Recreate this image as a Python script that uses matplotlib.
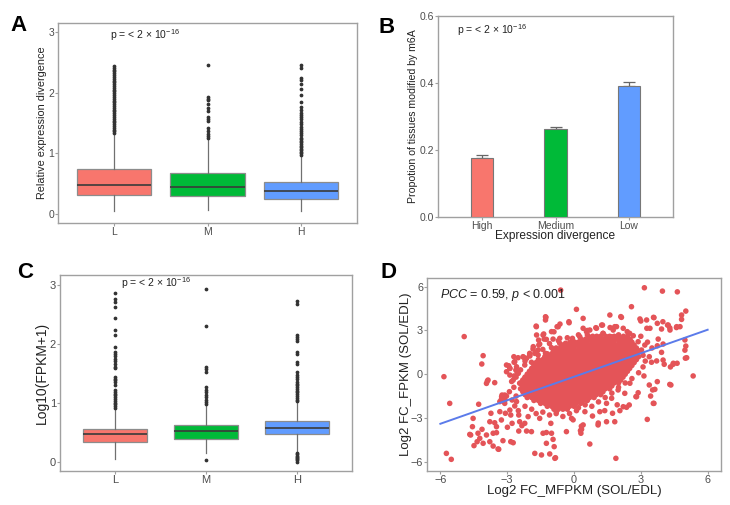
import matplotlib
matplotlib.use("Agg")
import matplotlib.pyplot as plt

plt.rcParams['font.family'] = ['Liberation Sans', 'DejaVu Sans']
plt.rcParams['mathtext.fontset'] = 'custom'
plt.rcParams['mathtext.rm'] = 'Liberation Sans'
plt.rcParams['mathtext.it'] = 'Liberation Sans:italic'

# ---------- data ----------
groups = ["L", "M", "H"]
box_colors = ["#F8766D", "#00BA38", "#619CFF"]

# panel A: relative expression divergence
A_med = [0.48, 0.45, 0.37]
A_q1 = [0.32, 0.30, 0.24]
A_q3 = [0.74, 0.67, 0.53]
A_lo = [0.055, 0.066, 0.04]
A_hi = [1.33, 1.22, 0.97]
A_out_L = [1.33, 1.36, 1.39, 1.42, 1.45, 1.48, 1.51, 1.54, 1.57, 1.6, 1.63, 1.66, 1.69,
           1.72, 1.75, 1.78, 1.81, 1.84, 1.87, 1.9, 1.93, 1.96, 1.99, 2.02, 2.05, 2.08,
           2.11, 2.14, 2.17, 2.2, 2.23, 2.26, 2.29, 2.32, 2.35, 2.38, 2.41, 2.44]
A_out_M = [1.25, 1.28, 1.32, 1.37, 1.41, 1.53, 1.57, 1.6, 1.69, 1.75, 1.81, 1.88, 1.9, 1.93, 2.45]
A_out_H = [0.98, 1.0, 1.02, 1.05, 1.07, 1.1, 1.12, 1.15, 1.18, 1.2, 1.23, 1.26, 1.3, 1.33,
           1.36, 1.4, 1.44, 1.48, 1.52, 1.56, 1.6, 1.64, 1.67, 1.71, 1.77, 1.85, 1.96, 2.06,
           2.14, 2.21, 2.25, 2.4, 2.45]

# panel B: proportion of tissues modified by m6A
B_cats = ["High", "Medium", "Low"]
B_vals = [0.177, 0.262, 0.392]
B_err = [0.009, 0.007, 0.011]

# panel C: Log10(FPKM+1)
C_med = [0.48, 0.52, 0.575]
C_q1 = [0.34, 0.39, 0.47]
C_q3 = [0.56, 0.63, 0.69]
C_lo = [0.05, 0.15, 0.18]
C_hi = [0.89, 0.95, 1.0]
C_out_L = [0.92, 0.95, 0.98, 1.01, 1.04, 1.07, 1.1, 1.13, 1.16, 1.19, 1.22, 1.31, 1.35,
           1.39, 1.41, 1.44, 1.59, 1.62, 1.66, 1.71, 1.75, 1.79, 1.83, 1.87, 1.95, 2.16,
           2.24, 2.45, 2.63, 2.72, 2.76, 2.86]
C_out_M = [0.04, 0.98, 1.02, 1.06, 1.1, 1.14, 1.19, 1.22, 1.28, 1.52, 1.58, 1.62, 2.31, 2.93]
C_out_H = [0.01, 0.03, 0.05, 0.07, 0.09, 0.11, 0.13, 0.16, 1.03, 1.06, 1.09, 1.12, 1.15,
           1.18, 1.21, 1.24, 1.27, 1.3, 1.33, 1.36, 1.4, 1.44, 1.48, 1.53, 1.66, 1.7, 1.83,
           1.87, 2.06, 2.09, 2.12, 2.15, 2.68, 2.73]

# panel D: scattered points outside the dense core (x, y)
D_sparse = [
    (-0.6, 5.77), (3.16, 5.93), (3.97, 5.7), (4.64, 5.65), (0.11, 4.45), (2.58, 4.63),
    (-4.93, 2.58), (-4.08, 1.27), (-4.14, 0.7), (-5.84, -0.17), (-5.58, -2.0), (-4.28, -2.06),
    (-5.73, -5.43), (-5.51, -5.84), (5.35, -0.12), (5.02, 4.33), (4.83, 4.06), (-1.28, 3.94),
    (-1.28, 3.72), (-1.69, 3.26), (-0.23, 3.6), (0.41, 3.83), (1.61, 4.06), (2.13, 3.9),
    (2.96, 3.79), (3.26, 3.72), (3.59, 3.88), (4.83, 3.76), (4.76, 3.26), (4.61, 3.26),
    (4.23, 3.37), (4.31, 3.03), (3.93, 3.1), (3.74, 3.49), (3.41, 3.15), (4.98, 2.35),
    (5.02, 1.93), (5.06, 1.13), (3.78, 2.41), (3.74, 1.95), (3.93, 1.5), (4.05, 0.68),
    (3.71, 0.91), (3.48, 0.82), (3.38, 1.2), (4.45, 0.68), (4.63, 0.75), (3.03, 1.66),
    (3.18, 2.0), (2.88, 2.23), (2.66, 2.64), (2.39, 2.92), (2.21, 3.15), (1.91, 3.26),
    (1.76, 3.03), (1.28, 3.37), (0.98, 3.19), (0.71, 3.03), (1.69, 2.57), (-0.07, 2.46),
    (4.35, -0.74), (3.74, -0.51), (3.63, -1.04), (3.59, -2.0), (3.44, -1.5), (3.29, -3.1),
    (3.38, -0.74), (3.14, -0.12), (2.81, -1.54), (2.88, -1.27), (2.48, -2.11), (2.21, -2.23),
    (2.06, -2.5), (1.83, -3.26), (1.46, -3.26), (1.73, -2.68), (1.38, -2.5), (1.16, -2.57),
    (1.08, -3.48), (0.83, -2.87), (0.49, -2.57), (0.41, -3.48), (0.34, -3.78), (0.31, -4.05),
    (0.71, -4.79), (1.88, -5.77), (-0.11, -3.03), (0.11, -2.5), (2.51, -0.62), (2.28, -1.31),
    (1.98, -1.08), (1.69, -1.65), (1.46, -2.0), (-3.89, -0.47), (-3.56, -0.58), (-4.53, -3.03),
    (-4.64, -4.17), (-4.49, -4.9), (-4.31, -4.05), (-4.23, -4.4), (-4.13, -3.78), (-3.93, -4.17),
    (-3.78, -4.63), (-3.63, -4.05), (-3.48, -4.01), (-3.38, -5.15), (-3.19, -4.56), (-2.84, -4.63),
    (-3.78, -3.26), (-3.56, -3.33), (-3.48, -3.6), (-3.26, -3.14), (-2.99, -3.64), (-2.78, -3.37),
    (-3.08, -2.68), (-3.33, -2.57), (-3.73, -2.68), (-3.23, -1.43), (-3.03, -1.5), (-2.78, -1.77),
    (-2.66, -2.18), (-2.48, -2.8), (-2.44, -3.26), (-2.21, -3.37), (-2.06, -2.91), (-2.48, -3.9),
    (-2.13, -3.9), (-2.84, -2.8), (-3.33, -1.88), (-3.11, -2.0), (-2.69, -0.12), (-2.88, -0.06),
    (-2.54, 0.06), (-1.76, -5.43), (-1.46, -5.54), (-0.89, -4.97), (-0.83, -5.73), (-1.24, -4.74),
    (-1.39, -4.05), (-1.01, -4.05), (-1.04, -3.37), (-0.34, -3.94), (-0.79, -2.57), (-1.54, -3.03),
    (-0.71, 3.26), (-1.01, 2.92), (-1.39, 2.69), (-1.34, 2.41), (-0.94, 2.41), (-0.64, 2.46),
    (-0.38, 2.12), (-1.58, 2.0), (-1.84, 1.73), (-1.99, 1.32), (-2.29, 1.2), (-2.51, 1.13),
    (-2.69, 0.82), (-2.93, 0.58), (-2.58, 0.51), (-2.21, 0.63), (-1.91, 0.82), (-1.61, 1.32),
    (-1.01, 1.82), (-0.79, 1.66), (-0.56, 1.89), (-1.28, 1.43), (-3.03, 0.17), (-3.93, -0.63),
    (-3.25, -1.54), (-3.1, -1.77), (-2.88, -2.46), (-2.58, -1.88), (-3.03, 0.63), (-2.88, 0.4),
    (-2.61, 0.29), (-2.5, 0.06), (-2.13, 1.09), (-2.7, 1.2), (-1.98, 1.25), (-1.83, 1.89),
    (-1.68, 2.69), (-1.59, 2.34), (-0.9, 2.91), (-0.63, 3.44), (-4.68, -4.13), (-4.56, -3.6),
    (-4.35, -4.63), (-4.08, -4.74), (-3.63, -4.93), (-3.41, -5.13), (-2.73, -4.7), (-2.34, -3.53),
    (-1.91, -3.94), (-1.24, -4.0), (-0.94, -4.47), (-1.09, -5.47), (-0.86, -5.77), (0.29, -3.87),
    (0.33, -3.57), (-0.04, -3.13), (1.09, -3.35), (1.94, -2.1), (2.36, -2.27), (2.78, -1.54),
    (3.56, -2.0), (3.53, -1.08), (4.3, -0.7), (4.0, 0.97), (4.0, 2.07), (4.6, 3.2), (4.3, 3.18),
    (4.2, 3.37), (4.98, 1.65), (5.0, 1.1), (4.33, 0.5), (4.46, 0.75), (0.6, 3.0), (1.62, 3.2),
    (2.1, 3.95), (3.0, 3.65), (3.57, 3.9), (3.99, 3.6), (3.27, 3.15), (-1.26, 3.9), (-1.7, 3.3),
    (-0.22, 3.53), (0.41, 3.15), (-2.7, -0.9), (-2.9, -1.2), (-2.6, -1.5), (-2.8, -0.5),
    (-2.5, -2.5), (-2.2, -2.2), (-1.9, -2.4), (-1.7, -2.7), (-1.4, -2.6), (-1.1, -2.8),
    (-0.8, -2.7), (-0.5, -2.9), (-0.2, -2.7), (0.2, -2.3), (0.5, -2.1), (0.8, -2.2),
    (1.1, -1.9), (1.4, -1.6), (1.7, -1.3), (2.0, -0.9), (2.3, -0.6), (2.6, -0.3), (2.9, 0.1),
    (3.1, 0.5), (3.2, 0.9), (3.1, 1.3), (3.0, 2.6), (3.3, 2.2), (3.5, 1.8), (2.5, 2.8),
    (2.0, 2.7), (1.3, 2.8), (0.6, 2.7), (0.2, 2.7), (-0.3, 2.5), (-0.7, 2.3), (-1.1, 2.1),
    (-1.4, 1.7), (-1.7, 1.5), (-2.2, 0.9), (-2.4, 0.3), (-2.6, -0.2),
    (-0.76, 3.26), (-1.36, 2.76), (-1.24, 2.39), (-1.54, 2.07), (-1.99, 1.43), (-2.26, 1.16),
    (-3.86, -0.4), (-2.66, 0.86), (-2.88, 0.4), (-2.58, 0.24), (-2.73, -0.4), (-2.44, -0.62),
    (-2.21, -0.28), (-3.11, -1.43), (-3.26, -1.72), (-2.02, -1.04), (-1.76, -1.54),
    (-1.76, 1.43), (-1.61, 1.66), (-0.64, 2.12), (-0.34, 2.0), (-0.04, 2.23), (0.26, 2.57),
    (0.56, 2.92), (1.01, 3.15), (1.24, 3.37), (0.74, 2.53), (1.31, 2.8), (1.83, 3.26),
]

# panel D: the dense core, written row by row (y: x positions)
D_core = {
    2.6: "0.84 1.02 1.19 1.43 1.6 1.81 1.98 2.22 2.4",
    2.4: "0.31 0.52 0.68 0.9 1.11 1.29 1.5 1.72 1.88 2.1 2.31 2.52",
    2.2: "-0.18 0.03 0.2 0.41 0.58 0.8 1.01 1.22 1.4 1.6 1.79 2.02 2.2 2.41 2.6",
    2.0: "-0.52 -0.3 -0.11 0.1 0.29 0.5 0.71 0.88 1.1 1.3 1.49 1.7 1.92 2.1 2.3 2.49 2.7",
    1.8: "-0.8 -0.61 -0.4 -0.19 0.0 0.22 0.4 0.6 0.79 1.0 1.21 1.4 1.6 1.81 2.0 2.2 2.39 2.6 2.8",
    1.6: "-0.92 -0.7 -0.5 -0.31 -0.1 0.11 0.3 0.5 0.7 0.9 1.1 1.31 1.5 1.69 1.9 2.1 2.3 2.5 2.71 2.9",
    1.4: "-1.2 -1.0 -0.8 -0.59 -0.4 -0.2 0.0 0.2 0.41 0.6 0.8 1.0 1.2 1.4 1.6 1.8 2.0 2.2 2.4 2.6 2.8",
    1.2: "-1.31 -1.1 -0.9 -0.7 -0.5 -0.3 -0.1 0.1 0.3 0.5 0.7 0.9 1.1 1.3 1.5 1.7 1.9 2.1 2.3 2.5 2.7 2.9",
    1.0: "-1.6 -1.4 -1.2 -1.0 -0.8 -0.6 -0.4 -0.2 0.0 0.2 0.4 0.6 0.8 1.0 1.2 1.4 1.6 1.8 2.0 2.2 2.4 2.6 2.8",
    0.8: "-1.7 -1.5 -1.3 -1.1 -0.9 -0.7 -0.5 -0.3 -0.1 0.1 0.3 0.5 0.7 0.9 1.1 1.3 1.5 1.7 1.9 2.1 2.3 2.5 2.7",
    0.6: "-1.8 -1.6 -1.4 -1.2 -1.0 -0.8 -0.6 -0.4 -0.2 0.0 0.2 0.4 0.6 0.8 1.0 1.2 1.4 1.6 1.8 2.0 2.2 2.4 2.6",
    0.4: "-1.9 -1.7 -1.5 -1.3 -1.1 -0.9 -0.7 -0.5 -0.3 -0.1 0.1 0.3 0.5 0.7 0.9 1.1 1.3 1.5 1.7 1.9 2.1 2.3 2.5",
    0.2: "-2.0 -1.8 -1.6 -1.4 -1.2 -1.0 -0.8 -0.6 -0.4 -0.2 0.0 0.2 0.4 0.6 0.8 1.0 1.2 1.4 1.6 1.8 2.0 2.2 2.4",
    0.0: "-2.1 -1.9 -1.7 -1.5 -1.3 -1.1 -0.9 -0.7 -0.5 -0.3 -0.1 0.1 0.3 0.5 0.7 0.9 1.1 1.3 1.5 1.7 1.9 2.1 2.3",
    -0.2: "-2.2 -2.0 -1.8 -1.6 -1.4 -1.2 -1.0 -0.8 -0.6 -0.4 -0.2 0.0 0.2 0.4 0.6 0.8 1.0 1.2 1.4 1.6 1.8 2.0 2.2",
    -0.4: "-2.3 -2.1 -1.9 -1.7 -1.5 -1.3 -1.1 -0.9 -0.7 -0.5 -0.3 -0.1 0.1 0.3 0.5 0.7 0.9 1.1 1.3 1.5 1.7 1.9 2.1",
    -0.6: "-2.4 -2.2 -2.0 -1.8 -1.6 -1.4 -1.2 -1.0 -0.8 -0.6 -0.4 -0.2 0.0 0.2 0.4 0.6 0.8 1.0 1.2 1.4 1.6 1.8 2.0",
    -0.8: "-2.3 -2.1 -1.9 -1.7 -1.5 -1.3 -1.1 -0.9 -0.7 -0.5 -0.3 -0.1 0.1 0.3 0.5 0.7 0.9 1.1 1.3 1.5 1.7",
    -1.0: "-2.4 -2.2 -2.0 -1.8 -1.6 -1.4 -1.2 -1.0 -0.8 -0.6 -0.4 -0.2 0.0 0.2 0.4 0.6 0.8 1.0 1.2 1.4 1.6",
    -1.2: "-2.3 -2.1 -1.9 -1.7 -1.5 -1.3 -1.1 -0.9 -0.7 -0.5 -0.3 -0.1 0.1 0.3 0.5 0.7 0.9 1.1 1.3",
    -1.4: "-2.2 -2.0 -1.8 -1.6 -1.4 -1.2 -1.0 -0.8 -0.6 -0.4 -0.2 0.0 0.2 0.4 0.6 0.8 1.0 1.2",
    -1.6: "-2.1 -1.9 -1.7 -1.5 -1.3 -1.1 -0.9 -0.7 -0.5 -0.3 -0.1 0.1 0.3 0.5 0.7 0.9",
    -1.8: "-1.8 -1.6 -1.4 -1.2 -1.0 -0.8 -0.6 -0.4 -0.2 0.0 0.2 0.4 0.6",
    -2.0: "-1.5 -1.3 -1.1 -0.9 -0.7 -0.5 -0.3 -0.1 0.1 0.3",
    -2.2: "-1.2 -1.0 -0.8 -0.6 -0.4 -0.2 0.0",
    -2.4: "-0.9 -0.7 -0.5 -0.3",
}
D_fit_x = [-6, 6]
D_fit_y = [-3.4, 3.05]

# ---------- figure ----------
fig = plt.figure(figsize=(7.3, 5.05), dpi=100)
spine_col = "#A0A0A0"
tick_col = "#4D4D4D"
lab_col = "#222222"


def style(ax, fs):
    for s in ax.spines.values():
        s.set_color(spine_col)
        s.set_linewidth(1.0)
    ax.tick_params(colors=spine_col, labelcolor=tick_col, labelsize=fs, length=2, width=0.8, pad=0.8)


def ylab(ax, text, fs, x_center):
    ax.set_ylabel(text, fontsize=fs, color=lab_col, va="center")
    ax.yaxis.set_label_coords(x_center, 0.5)


def boxpanel(ax, med, q1, q3, lo, hi, outs, width):
    stats = []
    for i in range(3):
        stats.append(dict(med=med[i], q1=q1[i], q3=q3[i], whislo=lo[i], whishi=hi[i], fliers=outs[i]))
    b = ax.bxp(stats, positions=[1, 2, 3], widths=width, patch_artist=True, showcaps=False,
               boxprops=dict(edgecolor="#8C8C8C", linewidth=0.9),
               medianprops=dict(color="#3A3A3A", linewidth=1.2),
               whiskerprops=dict(color="#707070", linewidth=0.9),
               flierprops=dict(marker="o", markersize=1.7, markerfacecolor="#333333",
                               markeredgecolor="#333333", linestyle="none"))
    for patch, c in zip(b["boxes"], box_colors):
        patch.set_facecolor(c)
    ax.set_xlim(0.4, 3.6)
    ax.set_xticks([1, 2, 3])
    ax.set_xticklabels(groups)


ptxt = r"p = < 2 $\times$ 10$^{-16}$"

# A
axA = fig.add_axes([58 / 730, 1 - 223 / 505, 299 / 730, 200 / 505])
boxpanel(axA, A_med, A_q1, A_q3, A_lo, A_hi, [A_out_L, A_out_M, A_out_H], 0.8)
axA.set_ylim(-0.15, 3.15)
axA.set_yticks([0, 1, 2, 3])
style(axA, 7.5)
ylab(axA, "Relative expression divergence", 7.8, (42 - 58) / 299)
axA.text(0.96, 2.95, ptxt, fontsize=7.5, color=lab_col, va="center")

# B
axB = fig.add_axes([438 / 730, 1 - 217 / 505, 235 / 730, 201 / 505])
xb = [1, 2, 3]
axB.bar(xb, B_vals, width=0.3, color=box_colors, edgecolor="#777777", linewidth=0.8, zorder=3)
axB.errorbar(xb, B_vals, yerr=[[0, 0, 0], B_err], fmt="none", ecolor="#666666",
             elinewidth=0.9, capsize=4.5, capthick=0.9, zorder=2)
axB.set_xlim(0.4, 3.6)
axB.set_ylim(0, 0.6)
axB.set_xticks(xb)
axB.set_xticklabels(B_cats)
axB.set_yticks([0, 0.2, 0.4, 0.6])
axB.set_yticklabels(["0.0", "0.2", "0.4", "0.6"])
style(axB, 7.5)
ylab(axB, "Propotion of tissues modified by m6A", 7.6, (413 - 438) / 235)
axB.set_xlabel("Expression divergence", fontsize=8.6, color=lab_col)
axB.xaxis.set_label_coords(0.5, -0.064)
axB.text(0.66, 0.557, ptxt, fontsize=7.5, color=lab_col, va="center")

# C
axC = fig.add_axes([60 / 730, 1 - 471 / 505, 292 / 730, 196 / 505])
boxpanel(axC, C_med, C_q1, C_q3, C_lo, C_hi, [C_out_L, C_out_M, C_out_H], 0.7)
axC.set_ylim(-0.15, 3.17)
axC.set_yticks([0, 1, 2, 3])
style(axC, 8)
ylab(axC, "Log10(FPKM+1)", 10, (42 - 60) / 292)
axC.text(1.07, 3.04, ptxt, fontsize=7.5, color=lab_col, va="center")

# D
axD = fig.add_axes([427 / 730, 1 - 471 / 505, 294 / 730, 193 / 505])
core_x, core_y = [], []
for yv, row in D_core.items():
    for v in row.split():
        core_x.append(float(v))
        core_y.append(yv)
sx = [p[0] for p in D_sparse] + core_x
sy = [p[1] for p in D_sparse] + core_y
axD.scatter(sx, sy, s=16, color="#E45458", edgecolors="none", zorder=2)
axD.plot(D_fit_x, D_fit_y, color="#5B7BEA", linewidth=1.4, zorder=3)
axD.set_xlim(-6.6, 6.6)
axD.set_ylim(-6.64, 6.6)
axD.set_xticks([-6, -3, 0, 3, 6])
axD.set_yticks([-6, -3, 0, 3, 6])
style(axD, 7.8)
axD.set_xlabel("Log2 FC_MFPKM (SOL/EDL)", fontsize=9.5, color=lab_col)
axD.xaxis.set_label_coords(0.5, -0.07)
ylab(axD, "Log2 FC_FPKM (SOL/EDL)", 9.5, (406 - 427) / 294)
axD.text(-6.0, 5.43, r"$\it{PCC}$ = 0.59, $\it{p}$ < 0.001", fontsize=9, color=lab_col, va="center")

# panel letters
for lab, x, y in [("A", 10, 31), ("B", 378, 33), ("C", 17, 278), ("D", 380, 278)]:
    fig.text(x / 730, 1 - y / 505, lab, fontsize=16, fontweight="bold", ha="left", va="baseline")

fig.savefig("out.png", dpi=100)
